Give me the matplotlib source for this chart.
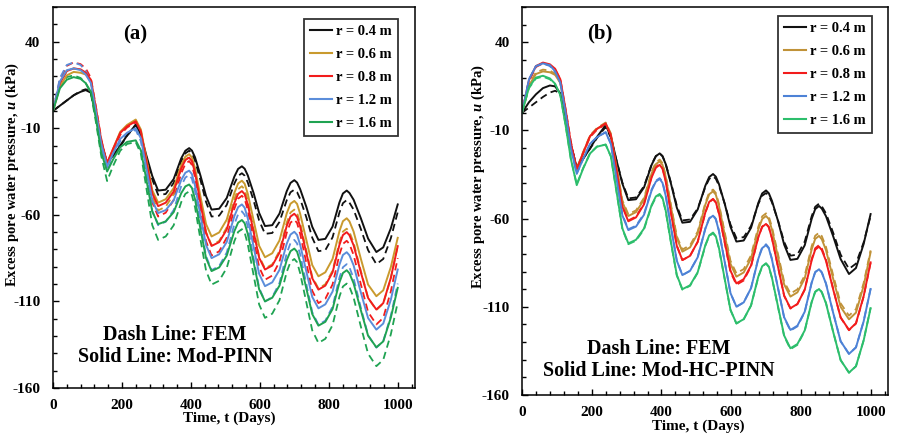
import matplotlib
matplotlib.use('Agg')
import matplotlib.pyplot as plt
from matplotlib.ticker import MultipleLocator

plt.rcParams['font.family'] = 'Liberation Serif'
plt.rcParams['font.weight'] = 'bold'
plt.rcParams['axes.unicode_minus'] = False
plt.rcParams['mathtext.fontset'] = 'custom'
plt.rcParams['mathtext.it'] = 'Liberation Serif:italic:bold'

# time, days
t_days = [0, 20, 40, 60, 80, 95, 110, 125, 140, 157,
          175, 195, 215, 240, 255, 270, 288, 305,
          327, 350, 372, 384, 395, 403, 412, 428, 444, 460,
          482, 504, 526, 537, 548, 556, 565, 582, 598, 615,
          636, 657, 678, 689, 700, 708, 717, 735, 752, 770,
          790, 811, 831, 841, 852, 860, 872, 893, 914, 938,
          958, 980, 1000]

# FEM (dashed, same in both panels)
fem_04 = [0, 3, 6, 9, 11.5, 12.5, 11, -3, -18, -30.5,
          -26, -20.4, -14.3, -8, -14.1, -26.2, -39.6, -48.5,
          -48, -41.6, -29.1, -24.5, -23, -24.5, -28.7, -40.1, -52.6, -61,
          -60.5, -54.3, -42, -37.5, -36, -37.4, -41.3, -51.8, -63.3, -71,
          -70.5, -64.1, -51.6, -47, -45.5, -46.9, -50.8, -61.5, -73.2, -81,
          -80.4, -73, -58.6, -53.3, -51.5, -53, -57, -68.2, -80.4, -88.5,
          -85.5, -73.5, -58.5]
fem_06 = [0, 16, 23, 24.5, 24, 22, 17, 0, -19, -31.5,
          -22.4, -12.8, -8.6, -5.5, -11.7, -28.9, -49.7, -57.5,
          -55.3, -48.2, -33.3, -28.1, -26.5, -28.5, -35.2, -53, -69.9, -77.5,
          -75.1, -67.3, -51, -45.2, -43.5, -45.4, -51.6, -68.2, -83.9, -91,
          -88.6, -80.8, -64.5, -58.7, -57, -58.8, -64.7, -80.7, -95.7, -102.5,
          -100.1, -92.2, -75.6, -69.7, -68, -69.9, -76, -92.4, -108, -115,
          -111.3, -96.5, -78]
fem_08 = [0, 18, 26, 28, 27, 24.5, 19, 2, -16, -32.5,
          -23.4, -13.8, -9.6, -6.5, -13, -31, -52.8, -61,
          -58.8, -51.4, -36, -30.6, -29, -31.2, -38.3, -57.3, -75.3, -83.5,
          -81.1, -73.2, -56.6, -50.7, -49, -50.9, -57.2, -74.2, -90.2, -97.5,
          -95.1, -87.1, -70.4, -64.5, -62.8, -64.7, -71, -87.9, -103.8, -111,
          -108.5, -100.2, -82.9, -76.8, -75, -76.9, -83.2, -100.1, -116.1, -123.3,
          -119.5, -104.2, -85]
fem_12 = [0, 19, 26.5, 28, 26.5, 23, 17, 0, -20, -34.5,
          -26.3, -17.6, -13.8, -11, -17.6, -35.8, -57.8, -66,
          -64, -57.3, -43.4, -38.5, -37, -39.2, -46.4, -65.6, -83.8, -92,
          -89.6, -81.8, -65.5, -59.7, -58, -60.1, -66.8, -85, -102.2, -110,
          -107.5, -99.4, -82.3, -76.3, -74.5, -76.5, -82.8, -100, -116.2, -123.5,
          -121.1, -113, -96.2, -90.3, -88.5, -90.4, -96.7, -113.6, -129.5, -136.7,
          -133, -118.2, -99.7]
fem_16 = [0, 14, 19.5, 20.5, 19, 16, 10, -7, -26, -40.5,
          -31.5, -23, -19.1, -18, -24.8, -43.4, -66, -74.5,
          -72.5, -66.1, -52.7, -47.9, -46.5, -48.7, -55.6, -74.5, -92.2, -100.3,
          -98.1, -90.7, -75.3, -69.9, -68.3, -70.3, -77, -94.9, -111.8, -119.5,
          -117.1, -109.3, -93, -87.2, -85.5, -87.4, -93.7, -110.7, -126.7, -134,
          -131.6, -123.7, -107.2, -101.4, -99.7, -101.6, -107.8, -124.5, -140.2, -147.4,
          -143.7, -129, -110.5]

# Mod-PINN (panel a, solid)
pinn_04 = [0, 3, 6, 9, 11, 12, 10.5, -3, -18, -30,
           -25.6, -20.1, -14.2, -8, -13.7, -25.1, -37.6, -46,
           -45.5, -39.4, -27.4, -23, -21.5, -22.9, -26.8, -37.5, -49.2, -57,
           -56.5, -50.3, -38, -33.5, -32, -33.4, -37.2, -47.5, -58.9, -66.5,
           -66, -59.3, -46.4, -41.6, -40, -41.4, -45.2, -55.5, -66.9, -74.5,
           -73.9, -66.8, -52.8, -47.7, -46, -47.4, -51.3, -62, -73.7, -81.5,
           -78.8, -67.8, -54]
pinn_06 = [0, 14, 20.5, 22.5, 22, 21, 17, 0, -18, -30.5,
           -21.6, -12.1, -8.1, -5, -10.8, -26.6, -45.8, -53,
           -51, -44.6, -31.2, -26.4, -25, -26.9, -33.1, -49.7, -65.4, -72.5,
           -70.2, -62.8, -47.4, -41.9, -40.3, -42.1, -47.8, -63.3, -77.9, -84.5,
           -82.2, -74.8, -59.2, -53.6, -52, -53.7, -59.4, -74.6, -89, -95.5,
           -93.2, -85.5, -69.4, -63.7, -62, -63.8, -69.7, -85.4, -100.3, -107,
           -103.6, -90.2, -73.3]
pinn_08 = [0, 16, 23, 24.5, 24, 22, 18, 1, -17, -30,
           -21.6, -12.7, -8.9, -6, -11.9, -28.1, -47.7, -55,
           -53, -46.6, -33.2, -28.4, -27, -29, -35.7, -53.5, -70.4, -78,
           -75.8, -68.5, -53.3, -47.9, -46.3, -48.1, -54, -69.9, -84.8, -91.6,
           -89.3, -81.9, -66.5, -61, -59.4, -61.2, -66.8, -82.2, -96.6, -103.2,
           -100.9, -93.2, -77.3, -71.7, -70, -71.8, -77.6, -93.2, -108, -114.7,
           -111, -96.4, -78.1]
pinn_12 = [0, 17, 23.5, 24.5, 23.5, 21, 16, -1, -19, -32,
           -24.3, -16.2, -12.6, -10, -15.9, -32.1, -51.7, -59,
           -57.3, -51.7, -39.9, -35.7, -34.5, -36.5, -43.1, -60.8, -77.4, -85,
           -82.8, -75.7, -60.8, -55.6, -54, -55.9, -62, -78.5, -94.1, -101.2,
           -99, -91.8, -76.7, -71.4, -69.8, -71.6, -77.3, -92.8, -107.4, -114,
           -111.7, -104.3, -88.7, -83.2, -81.6, -83.4, -89.2, -104.8, -119.6, -126.3,
           -122.8, -109, -91.6]
pinn_16 = [0, 13, 18, 19.5, 18.5, 16, 11, -5, -24, -35,
           -27.8, -21, -17.9, -17, -22.8, -38.8, -58.1, -65.4,
           -63.8, -58.5, -47.5, -43.6, -42.5, -44.5, -51, -68.5, -85, -92.5,
           -90.4, -83.6, -69.5, -64.5, -63, -64.9, -71, -87.4, -103, -110,
           -107.9, -100.9, -86.2, -81, -79.5, -81.3, -87.1, -102.6, -117.3, -124,
           -121.8, -114.4, -99, -93.6, -92, -93.8, -99.6, -115.1, -129.8, -136.5,
           -133.1, -119.4, -102.2]

# Mod-HC-PINN (panel b, solid)
hc_04 = [0, 6, 10.5, 14, 15.5, 15, 11, -3, -18, -31,
         -26.2, -20.2, -13.7, -7, -13.4, -26.1, -40.2, -49.5,
         -49, -42.3, -29.4, -24.6, -23, -24.6, -28.9, -40.7, -53.7, -62.3,
         -61.8, -54.8, -41.3, -36.4, -34.7, -36.2, -40.4, -51.9, -64.6, -73,
         -72.4, -65.2, -51, -45.7, -44, -45.6, -49.9, -61.7, -74.7, -83.4,
         -82.8, -75.1, -60.1, -54.6, -52.8, -54.3, -58.6, -70.2, -82.9, -91.4,
         -88, -74.4, -57.4]
hc_06 = [0, 15.5, 22, 23.5, 23, 21.5, 17, 0, -19, -32,
         -22.9, -13.3, -9.1, -6, -12.3, -29.6, -50.6, -58.5,
         -56.3, -49.2, -34.3, -29.1, -27.5, -29.5, -36.2, -54.1, -71, -78.7,
         -76.3, -68.4, -52, -46.2, -44.5, -46.4, -52.7, -69.7, -85.6, -92.9,
         -90.5, -82.6, -66.1, -60.2, -58.5, -60.3, -66.3, -82.3, -97.3, -104.2,
         -101.8, -93.9, -77.4, -71.5, -69.8, -71.7, -77.8, -94.4, -110, -117.1,
         -113.3, -98.1, -79]
hc_08 = [0, 18.5, 26.5, 28.5, 27.5, 25, 19, 2, -17, -32,
         -22.9, -13.3, -9.1, -6, -12.7, -31, -53.2, -61.5,
         -59.3, -51.9, -36.5, -31.1, -29.5, -31.7, -38.7, -57.6, -75.4, -83.5,
         -81.1, -73.1, -56.4, -50.5, -48.8, -50.7, -57, -73.7, -89.5, -96.7,
         -94.3, -86.6, -70.4, -64.7, -63, -64.9, -71.1, -87.9, -103.6, -110.8,
         -108.4, -100.3, -83.6, -77.6, -75.9, -77.8, -83.9, -100.4, -116, -123.1,
         -119.3, -104, -84.8]
hc_12 = [0, 19, 26.5, 28, 27, 23.5, 17, 0, -20, -34.5,
         -26.3, -17.6, -13.8, -11, -17.7, -36, -58.2, -66.5,
         -64.5, -57.8, -43.9, -39, -37.5, -39.7, -46.8, -65.8, -83.8, -92,
         -89.6, -81.9, -65.7, -60, -58.3, -60.4, -67.1, -85.1, -102.2, -109.9,
         -107.5, -99.4, -82.7, -76.7, -75, -76.9, -83.2, -100, -115.9, -123.1,
         -120.7, -112.8, -96.3, -90.4, -88.7, -90.6, -96.9, -113.7, -129.5, -136.7,
         -133, -118.3, -99.9]
hc_16 = [0, 14.5, 20, 21, 19.5, 16.5, 10, -7, -26, -41,
         -31.8, -23.1, -19.2, -18, -24.7, -43.2, -65.6, -74,
         -72, -65.6, -52.2, -47.4, -46, -48.2, -55.2, -74.1, -91.9, -100,
         -97.8, -90.4, -75, -69.5, -67.9, -70, -76.7, -94.7, -111.7, -119.4,
         -117, -109.2, -92.8, -87, -85.3, -87.2, -93.5, -110.4, -126.3, -133.5,
         -131.1, -123.4, -107.3, -101.6, -99.9, -101.8, -108, -124.5, -140.2, -147.3,
         -143.7, -129.1, -110.8]

labels = ['r = 0.4 m', 'r = 0.6 m', 'r = 0.8 m', 'r = 1.2 m', 'r = 1.6 m']
colors_a = ['#111111', '#C99A2E', '#F21C1C', '#5B8DDA', '#1FA352']
colors_b = ['#111111', '#C09238', '#F21C1C', '#4D82D6', '#2DBE6C']
x_ticks = [0, 200, 400, 600, 800, 1000]
y_ticks = [40, -10, -60, -110, -160]

fem_all = [fem_04, fem_06, fem_08, fem_12, fem_16]
pinn_all = [pinn_04, pinn_06, pinn_08, pinn_12, pinn_16]
hc_all = [hc_04, hc_06, hc_08, hc_12, hc_16]


def draw_panel(ax, model, colors, tag, tag_xy, note, note_xy, leg_xy, ylab_xy, xlab_xy):
    for fem, c in zip(fem_all, colors):
        ax.plot(t_days, fem, color=c, lw=1.3, ls=(0, (4, 2.5)))
    for sol, c, lab in zip(model, colors, labels):
        ax.plot(t_days, sol, color=c, lw=1.4, label=lab)

    ax.set_xlim(0, 1050)
    ax.set_ylim(-160, 60)
    ax.set_xticks(x_ticks)
    ax.set_yticks(y_ticks)
    ax.xaxis.set_minor_locator(MultipleLocator(40))
    ax.yaxis.set_minor_locator(MultipleLocator(10))
    ax.tick_params(which='both', direction='in', labelsize=11, width=1)
    ax.tick_params(axis='x', which='major', length=4, pad=8)
    ax.tick_params(axis='y', which='major', length=4, pad=9)
    ax.tick_params(which='minor', length=3)
    for s in ax.spines.values():
        s.set_linewidth(1.1)

    ax.set_xlabel('Time, t (Days)', fontsize=11, fontweight='bold')
    ax.set_ylabel('Excess pore water pressure, $u$ (kPa)', fontsize=10.5, fontweight='bold')
    ax.xaxis.set_label_coords(*xlab_xy)
    ax.yaxis.set_label_coords(*ylab_xy)
    ax.xaxis.label.set_va('center')
    ax.yaxis.label.set_va('center')

    leg = ax.legend(loc='upper right', bbox_to_anchor=leg_xy, borderaxespad=0,
                    fontsize=10.5, handlelength=1.5, handletextpad=0.3,
                    labelspacing=0.68, borderpad=0.4, fancybox=False,
                    framealpha=1, edgecolor='#333333')
    leg.get_frame().set_linewidth(1.3)
    for line in leg.get_lines():
        line.set_linewidth(1.5)

    ax.text(tag_xy[0], tag_xy[1], tag, transform=ax.transAxes, fontsize=15,
            fontweight='bold', ha='center', va='center')
    ax.text(note_xy[0], note_xy[1], note, transform=ax.transAxes, fontsize=14.4,
            fontweight='bold', ha='center', va='center', linespacing=1.15)


fig = plt.figure(figsize=(8.98, 4.41), dpi=100)
ax1 = fig.add_axes([0.0590, 0.1202, 0.4031, 0.8640])
ax2 = fig.add_axes([0.5813, 0.1043, 0.4076, 0.8798])

draw_panel(ax1, pinn_all, colors_a, '(a)', (0.227, 0.928),
           'Dash Line: FEM\nSolid Line: Mod-PINN', (0.337, 0.110),
           (0.953, 0.969), (-0.113, 0.56), (0.486, -0.079))
draw_panel(ax2, hc_all, colors_b, '(b)', (0.213, 0.932),
           'Dash Line: FEM\nSolid Line: Mod-HC-PINN', (0.374, 0.090),
           (0.956, 0.977), (-0.12, 0.562), (0.481, -0.08))

fig.savefig('out.png', dpi=100)
